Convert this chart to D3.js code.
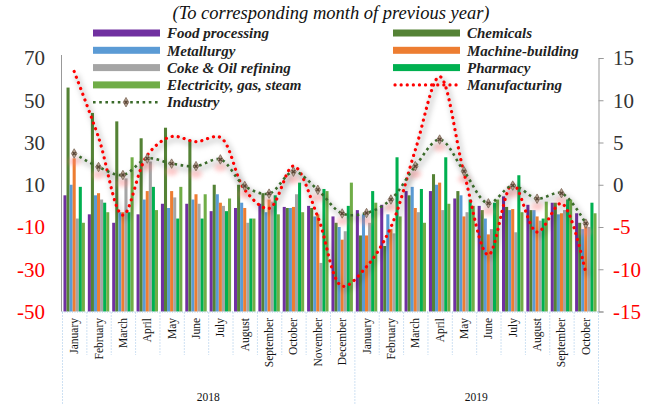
<!DOCTYPE html>
<html>
<head>
<meta charset="utf-8">
<script src="https://cdn.jsdelivr.net/npm/d3@7"></script>
<style>
  body { margin: 0; background: #fff; }
  text { font-family: "Liberation Serif", "DejaVu Serif", serif; }
</style>
</head>
<body>
<svg id="svg1"></svg>
<script>
// data (growth rates, % to corresponding month of previous year)
var months = ["January","February","March","April","May","June","July","August","September","October","November","December",
              "January","February","March","April","May","June","July","August","September","October"];
var years = ["2018", "2019"];
var yearCounts = [12, 10];

var foodProcessing = [5, -4, -8, -4, 1, 1, -2.5, -1, 1, -0.5, 0, -5, -2, 0.5, 7, 7, 3.5, 0, 4.5, 0.5, 1.5, -3.5];
var chemicals      = [56, 44, 40, 32, 37, 31, 10, 10, 6, -1, -1, -8, -14, -19, 5, 15, 7, -2, -0.5, -2, 1.5, -8];
var metallurgy     = [10, 5, -3, 3, -1, 3, 5.5, 1.5, -3, -1, -5, -10, -4, -4, 9, 10, 5, -6, -2, -2, -4, -11];
var machineBuild   = [22.5, 6, -3, 7, 7, 5.5, 1.5, -1, 3, -0.5, -4, -16, -14, -11, -1, 11, -5, -13.5, -1.5, -5, -3.5, -8];
var cokeOil        = [-6, 3, 13, 21, 4, 1, 0, -8, 2, 5.5, -27, -12, -8, -13, -3, -2, -3, -11, -12.5, -7, -2, -10];
var pharmacy       = [9, 1.5, -3, 9, -6, -6, -2.5, -6, 5, 11, 8, 0, 7, 23, 8, 23, 3, 1.5, 14.5, -6, 3, 1.5];
var electricity    = [-8, -3, 23, -2, 9, 5.5, 3.5, -6, -4, -3, 7, 11, 1.5, -5, -8, 1, 0, 3, -3, 2, 3, -3.5];

// right axis series
var industry      = [3.7, 2.1, 1.15, 3.1, 2.5, 2.2, 3.0, -0.15, -1.05, 1.55, -0.6, -3.4, -3.35, -1.75, 2.2, 5.35, 1.6, -2.2, -0.1, -1.65, -1.0, -4.6];
var manufacturing = [13.4, 5.6, -3.6, 3.5, 5.7, 5.1, 5.6, -0.6, -2.8, 2.2, -3.8, -12, -9.7, -5, 4.1, 12.8, 1.4, -8.3, 0.1, -5.6, -2.2, -10.5];

var leftTicks = [70, 50, 30, 10, -10, -30, -50];
var rightTicks = [15, 10, 5, 0, -5, -10, -15];

var seriesNames = ["Food processing", "Chemicals", "Metallurgy", "Machine-building", "Coke & Oil refining", "Pharmacy", "Electricity, gas, steam"];
var seriesValues = [foodProcessing, chemicals, metallurgy, machineBuild, cokeOil, pharmacy, electricity];
var seriesColors = ["#7030a0", "#548235", "#5b9bd5", "#ed7d31", "#a5a5a5", "#00b050", "#70ad47"];

var W = 653, H = 406;
var plot = {left: 62, right: 598, top: 58, bottom: 311.5};

var svg = d3.select("#svg1")
  .attr("width", W)
  .attr("height", H);

var defs = svg.append("defs");
defs.append("filter").attr("id", "blur").attr("x", "-20%").attr("y", "-30%").attr("width", "140%").attr("height", "160%")
  .append("feGaussianBlur").attr("stdDeviation", 2.5);
defs.append("filter").attr("id", "blur2").attr("x", "-100%").attr("y", "-100%").attr("width", "300%").attr("height", "300%")
  .append("feGaussianBlur").attr("stdDeviation", 2);

var idx = d3.range(months.length);

var x = d3.scaleBand()
  .domain(idx)
  .range([plot.left, plot.right])
  .paddingInner(0.12)
  .paddingOuter(0.06);

var xs = d3.scaleBand()
  .domain(d3.range(seriesNames.length))
  .range([0, x.bandwidth()]);

var yL = d3.scaleLinear().domain([-50, 70]).range([plot.bottom, plot.top]);
var yR = d3.scaleLinear().domain([-15, 15]).range([plot.bottom, plot.top]);

var step = (plot.right - plot.left) / months.length;
function cx(i) { return x(i) + x.bandwidth() / 2; }

// title
svg.append("text")
  .attr("x", 331)
  .attr("y", 19)
  .attr("text-anchor", "middle")
  .style("font-size", "18.5px")
  .style("font-style", "italic")
  .attr("fill", "#111")
  .text("(To corresponding month of previous year)");

// bars, drawn up from the bottom of the axis
var groups = svg.append("g").selectAll("g")
  .data(seriesValues)
  .enter()
  .append("g")
  .attr("fill", function(d, s) { return seriesColors[s]; });

groups.each(function(vals, s) {
  d3.select(this).selectAll("rect")
    .data(vals)
    .enter()
    .append("rect")
      .attr("x", function(d, i) { return x(i) + xs(s); })
      .attr("width", xs.bandwidth())
      .attr("y", function(d) { return yL(d); })
      .attr("height", function(d) { return plot.bottom - yL(d); });
});

// axes lines
svg.append("line")
  .attr("x1", plot.left - 0.5).attr("x2", plot.left - 0.5)
  .attr("y1", 55).attr("y2", plot.bottom)
  .attr("stroke", "#999").attr("stroke-width", 1);

var rAxis = svg.append("g")
  .attr("transform", "translate(" + (plot.right + 0.5) + ",0)")
  .call(d3.axisRight(yR).tickValues(rightTicks).tickSize(5).tickFormat(""));
rAxis.select(".domain").attr("stroke", "#999");
rAxis.selectAll(".tick line").attr("stroke", "#999");

svg.append("line")
  .attr("x1", plot.left).attr("x2", plot.right)
  .attr("y1", plot.bottom + 0.5).attr("y2", plot.bottom + 0.5)
  .attr("stroke", "#9dc3e6").attr("stroke-dasharray", "1 1.5");

// tick labels
svg.append("g").selectAll("text")
  .data(leftTicks)
  .enter()
  .append("text")
    .attr("x", 45)
    .attr("y", function(d) { return yL(d); })
    .attr("dy", "0.35em")
    .attr("text-anchor", "end")
    .style("font-size", "21px")
    .attr("fill", function(d) { return d < 0 ? "#ff0000" : "#333"; })
    .text(function(d) { return d; });

svg.append("g").selectAll("text")
  .data(rightTicks)
  .enter()
  .append("text")
    .attr("x", 613)
    .attr("y", function(d) { return yR(d); })
    .attr("dy", "0.35em")
    .style("font-size", "21px")
    .attr("fill", function(d) { return d < 0 ? "#ff0000" : "#333"; })
    .text(function(d) { return d; });

// category axis: separators, month and year labels
var seps = svg.append("g").attr("stroke", "#9dc3e6").attr("stroke-dasharray", "1 2");
d3.range(months.length + 1).forEach(function(i) {
  var big = (i === 0 || i === 12 || i === months.length);
  seps.append("line")
    .attr("x1", plot.left + step * i + 0.5).attr("x2", plot.left + step * i + 0.5)
    .attr("y1", plot.bottom + 1).attr("y2", big ? 405 : 355);
});

svg.append("g").selectAll("text")
  .data(months)
  .enter()
  .append("text")
    .attr("transform", function(d, i) { return "translate(" + cx(i) + ",318) rotate(-90)"; })
    .attr("dy", "0.35em")
    .attr("text-anchor", "end")
    .style("font-size", "11.5px")
    .attr("fill", "#111")
    .text(function(d) { return d; });

var start = 0;
years.forEach(function(yr, k) {
  var mid = plot.left + step * (start + yearCounts[k] / 2);
  svg.append("text")
    .attr("x", mid)
    .attr("y", 401)
    .attr("text-anchor", "middle")
    .style("font-size", "11.5px")
    .attr("fill", "#111")
    .text(yr);
  start += yearCounts[k];
});

// lines on the right axis
var line = d3.line()
  .x(function(d, i) { return cx(i); })
  .y(function(d) { return yR(d); })
  .curve(d3.curveCatmullRom.alpha(0.5));

[manufacturing, industry].forEach(function(vals) {
  svg.append("path")
    .datum(vals)
    .attr("d", line)
    .attr("transform", "translate(2,3)")
    .attr("fill", "none")
    .attr("stroke", "#000")
    .attr("stroke-opacity", 0.13)
    .attr("stroke-width", 6)
    .attr("filter", "url(#blur)");
});

// pink glow under industry markers
svg.append("g").selectAll("ellipse")
  .data(industry)
  .enter()
  .append("ellipse")
    .attr("cx", function(d, i) { return cx(i); })
    .attr("cy", function(d) { return yR(d) + 8; })
    .attr("rx", 6).attr("ry", 4)
    .attr("fill", "#ff8080")
    .attr("opacity", 0.4)
    .attr("filter", "url(#blur2)");

svg.append("path")
  .datum(manufacturing)
  .attr("d", line)
  .attr("fill", "none")
  .attr("stroke", "#ff0000")
  .attr("stroke-width", 3.2)
  .attr("stroke-linecap", "round")
  .attr("stroke-dasharray", "0.1 6");

svg.append("path")
  .datum(industry)
  .attr("d", line)
  .attr("fill", "none")
  .attr("stroke", "#3a6a2a")
  .attr("stroke-width", 2.6)
  .attr("stroke-dasharray", "2.6 3.6");

function drawMarker(g, px, py) {
  g.append("path")
    .attr("transform", "translate(" + px + "," + py + ")")
    .attr("d", d3.symbol().type(d3.symbolDiamond).size(26))
    .attr("fill", "#b8a494")
    .attr("stroke", "#7a6454")
    .attr("stroke-width", 0.8);
  g.append("path")
    .attr("transform", "translate(" + px + "," + py + ") rotate(45)")
    .attr("d", d3.symbol().type(d3.symbolCross).size(10))
    .attr("fill", "#5a4636");
}

var markers = svg.append("g");
industry.forEach(function(d, i) { drawMarker(markers, cx(i), yR(d)); });

// legend
var legendRows = [
  {name: "Food processing", col: 0, row: 0, color: seriesColors[0]},
  {name: "Metallurgy", col: 0, row: 1, color: seriesColors[2]},
  {name: "Coke & Oil refining", col: 0, row: 2, color: seriesColors[4]},
  {name: "Electricity, gas, steam", col: 0, row: 3, color: seriesColors[6]},
  {name: "Industry", col: 0, row: 4, type: "industry"},
  {name: "Chemicals", col: 1, row: 0, color: seriesColors[1]},
  {name: "Machine-building", col: 1, row: 1, color: seriesColors[3]},
  {name: "Pharmacy", col: 1, row: 2, color: seriesColors[5]},
  {name: "Manufacturing", col: 1, row: 3, type: "manufacturing"}
];

var legend = svg.append("g");
legendRows.forEach(function(d) {
  var lx = d.col === 0 ? 93 : 393;
  var ly = 33 + d.row * 17.3;
  if (d.type === "industry") {
    legend.append("line")
      .attr("x1", lx).attr("x2", lx + 67).attr("y1", ly).attr("y2", ly)
      .attr("stroke", "#3a6a2a").attr("stroke-width", 2.6).attr("stroke-dasharray", "2.6 3.6");
    drawMarker(legend, lx + 33, ly);
  } else if (d.type === "manufacturing") {
    legend.append("line")
      .attr("x1", lx + 2).attr("x2", lx + 67).attr("y1", ly).attr("y2", ly)
      .attr("stroke", "#ff0000").attr("stroke-width", 3.2)
      .attr("stroke-linecap", "round").attr("stroke-dasharray", "0.1 6");
  } else {
    legend.append("rect")
      .attr("x", lx).attr("y", ly - 3.5)
      .attr("width", 67).attr("height", 7)
      .attr("fill", d.color);
  }
  legend.append("text")
    .attr("x", lx + 74)
    .attr("y", ly)
    .attr("dy", "0.35em")
    .style("font-size", "15px")
    .style("font-style", "italic")
    .style("font-weight", "bold")
    .attr("fill", "#222")
    .text(d.name);
});
</script>
</body>
</html>
